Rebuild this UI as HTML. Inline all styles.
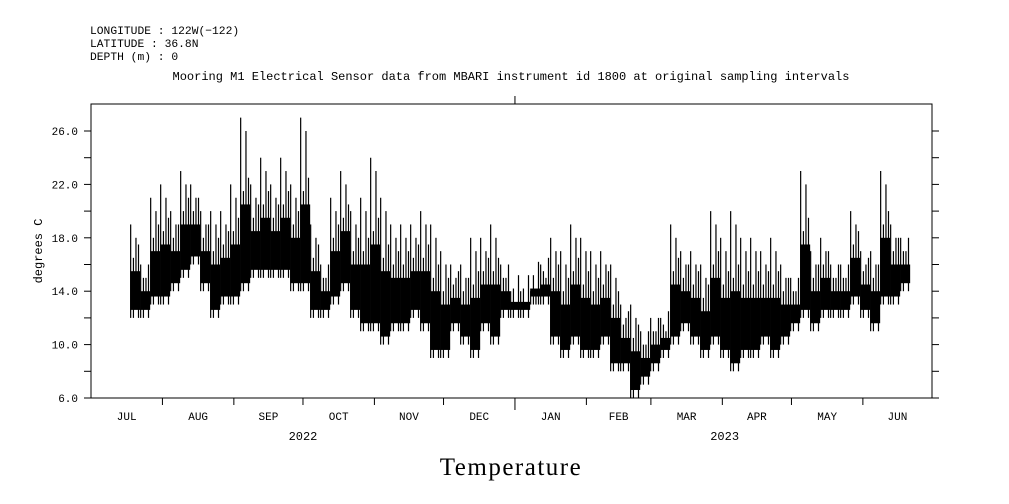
<!DOCTYPE html>
<html><head><meta charset="utf-8"><style>
body{margin:0;background:#fff;}
svg{display:block;font-family:"Liberation Mono",monospace;}
</style></head><body>
<svg id="chart" width="1009" height="504" viewBox="0 0 1009 504" xmlns="http://www.w3.org/2000/svg">
<g font-size="11.3" fill="#000">
<text x="90" y="34">LONGITUDE : 122W(−122)</text>
<text x="90" y="47">LATITUDE : 36.8N</text>
<text x="90" y="60">DEPTH (m) : 0</text>
</g>
<text x="511" y="80" font-size="12" text-anchor="middle">Mooring M1 Electrical Sensor data from MBARI instrument id 1800 at original sampling intervals</text>
<text transform="translate(42,251) rotate(-90)" font-size="12" text-anchor="middle">degrees C</text>
<text x="511" y="475" font-family="Liberation Serif,serif" font-size="25" letter-spacing="1.5" text-anchor="middle">Temperature</text>
<g id="axes"></g>
<g id="series"></g>
</svg>
<script>
const hiVals=[19,16,21,22,20,23,22,20,20,20,22,27,22,24,22,24,22,27,19,16,21,23,20,21,24,21,19,19,19,20,19,17,16,16,18,18,19,16,14,14,14,16,18,17,19,18,17,17,16,13,13,11,12,12,19,17,17,16,20,18,20,18,18,17,18,16,15,23,17,18,16,16,20,17,17,23,19,18];
const loVals=[12,12,13,13,14,15,16,14,12,13,13,14,15,15,15,15,14,14,12,12,13,14,12,11,11,10,11,11,12,11,9,9,11,10,9,11,10,12,12,12,13,13,10,9,10,9,9,10,8,8,6,7,8,9,10,11,10,9,10,9,8,9,9,10,9,10,11,12,11,12,12,12,13,12,11,13,13,14];
const yTicks=[6,8,10,12,14,16,18,20,22,24,26];
const yLabels=["6.0","10.0","14.0","18.0","22.0","26.0"];
const months=["JUL","AUG","SEP","OCT","NOV","DEC","JAN","FEB","MAR","APR","MAY","JUN"];
const monthDays=[31,31,30,31,30,31,31,28,31,30,31,30];
const years=["2022","2023"];
const startDay=17, bucketDays=4.34;

const X0=91,X1=932,Y0=104,Y1=398;
const xs=d=>X0+d*(X1-X0)/365;
const ys=v=>Y1-(v-6)*(Y1-131)/20;
const NS="http://www.w3.org/2000/svg";
function mk(tag,attrs,parent){const e=document.createElementNS(NS,tag);for(const k in attrs)e.setAttribute(k,attrs[k]);parent.appendChild(e);return e;}
const ax=document.getElementById('axes');
let fr=mk('rect',{x:X0,y:Y0,width:X1-X0,height:Y1-Y0,fill:'none',stroke:'#000','stroke-width':1},ax);


yTicks.forEach(v=>{
  const y=ys(v);
  let t=mk('line',{x1:X0-7,x2:X0,y1:y,y2:y,stroke:'#000'},ax);
  
  
  let t2=mk('line',{x1:X1,x2:X1+7,y1:y,y2:y,stroke:'#000'},ax);
  
  
});
yLabels.forEach(s=>{
  let t=mk('text',{x:78,y:ys(parseFloat(s))+4,'font-size':11,'text-anchor':'end'},ax);
  t.textContent=s;
  
  
});
let d=0;
months.forEach((m,i)=>{
  const xa=xs(d),xc=xs(d+monthDays[i]/2);
  if(i>0){let t=mk('line',{x1:xa,x2:xa,y1:Y1,y2:Y1+(i==6?12:7),stroke:'#000'},ax);
  
  }
  let l=mk('text',{x:xc,y:420,'font-size':11,'text-anchor':'middle'},ax);
  l.textContent=m;
  
  
  d+=monthDays[i];
});
const yb=xs(184);
let tt=mk('line',{x1:yb,x2:yb,y1:Y0-8,y2:Y0,stroke:'#000'},ax);


[xs(92),xs(275)].forEach((x,i)=>{
  let l=mk('text',{x:x,y:440,'font-size':12,'text-anchor':'middle'},ax);
  l.textContent=years[i];
  
  
});
const sg=document.getElementById('series');
hiVals.forEach((hi,i)=>{
  const lo=loVals[i];
  const d0=startDay+i*bucketDays;
  const core=Math.max(lo+(hi-lo)*0.5,lo+1.2);
  const cLo=lo+0.6;
  let r=mk('rect',{x:xs(d0),y:ys(core),width:xs(d0+bucketDays)-xs(d0),height:ys(cLo)-ys(core),fill:'#000'},sg);
  
  
  const pts=[[0,hi,lo],[1.2,core+1,lo],[2.3,hi-1,lo+1],[3.4,core+2,lo]];
  pts.forEach(p=>{
    const x=xs(d0+p[0])+0.5;
    let ln=mk('line',{x1:x,x2:x,y1:ys(p[1]),y2:ys(p[2]),stroke:'#000','stroke-width':1.2},sg);
    
    
  });
});
</script>
</body></html>
